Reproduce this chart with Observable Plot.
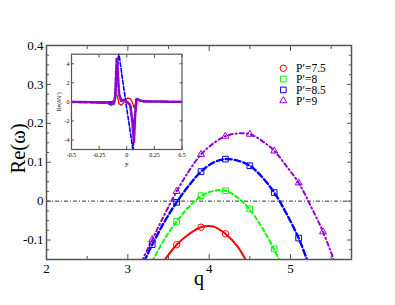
<!DOCTYPE html>
<html><head><meta charset="utf-8">
<script src="https://cdn.jsdelivr.net/npm/d3@7"></script>
<script src="https://cdn.jsdelivr.net/npm/@observablehq/plot@0.6"></script>
<style>
body{margin:0;background:#fff;}
#wrap{position:relative;width:395px;height:305px;font-family:"Liberation Serif","Times New Roman",serif;}
#wrap svg{position:absolute;font-family:"Liberation Serif","Times New Roman",serif !important;}
#wrap svg text{font-family:"Liberation Serif","Times New Roman",serif !important;}
</style>
</head><body><div id="wrap"></div>
<script>
// ---- main chart data ----
const seriesNames = ["P′=7.5", "P′=8", "P′=8.5", "P′=9"];
const seriesColors = ["#ff0000", "#00ff00", "#0000ff", "#9400d3"];
const seriesSymbols = ["circle", "square", "square", "triangle"];

const redQ = [3.6, 3.9, 4.2];
const redRe = [-0.112, -0.067, -0.084];
const greenQ = [3.6, 3.9, 4.2, 4.5, 4.8];
const greenRe = [-0.052, 0.014, 0.027, -0.020, -0.123];
const blueQ = [3.3, 3.6, 3.9, 4.2, 4.5, 4.8, 5.1];
const blueRe = [-0.112, -0.003, 0.076, 0.108, 0.091, 0.022, -0.095];
const violetQ = [3.3, 3.6, 3.9, 4.2, 4.5, 4.8, 5.1, 5.4];
const violetRe = [-0.099, 0.025, 0.120, 0.167, 0.172, 0.129, 0.047, -0.079];

const redLineQ = [3.44, 3.6, 3.75, 3.9, 4.05, 4.2, 4.35, 4.46];
const redLineRe = [-0.155, -0.112, -0.085, -0.067, -0.065, -0.084, -0.117, -0.155];
const greenLineQ = [3.30, 3.45, 3.6, 3.75, 3.9, 4.05, 4.2, 4.35, 4.5, 4.65, 4.8, 4.87];
const greenLineRe = [-0.155, -0.098, -0.052, -0.015, 0.013, 0.026, 0.027, 0.009, -0.022, -0.068, -0.125, -0.155];
const blueLineQ = [3.2, 3.3, 3.45, 3.6, 3.75, 3.9, 4.05, 4.2, 4.35, 4.5, 4.65, 4.8, 4.95, 5.1, 5.21];
const blueLineRe = [-0.155, -0.112, -0.053, -0.003, 0.040, 0.076, 0.099, 0.108, 0.104, 0.091, 0.062, 0.022, -0.032, -0.095, -0.155];
const violetLineQ = [3.17, 3.3, 3.45, 3.6, 3.75, 3.9, 4.05, 4.2, 4.35, 4.5, 4.65, 4.8, 4.95, 5.1, 5.25, 5.4, 5.54];
const violetLineRe = [-0.155, -0.099, -0.035, 0.025, 0.077, 0.120, 0.148, 0.167, 0.174, 0.172, 0.155, 0.129, 0.090, 0.047, -0.013, -0.079, -0.155];

const xMajor = [2, 3, 4, 5];
const xMinor = [2.5, 3.5, 4.5, 5.5];
const yMajor = [-0.1, 0, 0.1, 0.2, 0.3, 0.4];
const yMinor = [-0.125, -0.075, -0.05, -0.025, 0.025, 0.05, 0.075, 0.125, 0.15, 0.175, 0.225, 0.25, 0.275, 0.325, 0.35, 0.375];

// ---- inset data ----
const insetXTicks = [-0.5, -0.25, 0, 0.25, 0.5];
const insetYTicks = [-4, -2, 0, 2, 4];
const insRedY = [-0.5, -0.13, -0.11, -0.095, -0.085, -0.07, -0.05, -0.03, -0.01, 0.01, 0.03, 0.05, 0.065, 0.075, 0.09, 0.11, 0.15, 0.5];
const insRedV = [0, 0, 0.1, 0.9, 0.6, -0.2, -0.35, -0.1, 0.2, 0.4, 0.35, 0.0, -0.6, -0.3, 0.25, 0.2, 0.05, 0];
const insGreenY = [-0.5, -0.15, -0.11, -0.1, -0.085, -0.07, -0.05, -0.02, 0.01, 0.04, 0.055, 0.065, 0.075, 0.09, 0.11, 0.15, 0.5];
const insGreenV = [0, -0.1, -0.2, 0.5, 3.5, 1.0, 0.3, 0.1, 0, -0.5, -2.5, -3.8, -1.5, 0.3, 0.2, 0.05, 0];
const insBlueY = [-0.5, -0.14, -0.11, -0.09, -0.072, -0.04, 0, 0.03, 0.058, 0.07, 0.085, 0.1, 0.15, 0.5];
const insBlueV = [0, -0.05, 0.2, 2.5, 5.2, 2.5, -0.7, -3.0, -5.2, -2, 0.3, 0.2, 0.05, 0];
const insVioletY = [-0.5, -0.17, -0.14, -0.12, -0.105, -0.09, -0.08, -0.07, -0.05, -0.03, 0, 0.03, 0.05, 0.065, 0.075, 0.09, 0.11, 0.15, 0.5];
const insVioletV = [0, -0.1, -0.3, -0.2, 0.5, 4.6, 3.0, 0.8, 0.1, 0.2, 0, -0.3, -2, -4.2, -1.5, 0.3, 0.2, 0.05, 0];

const zip = (a, b) => a.map((v, i) => ({x: v, y: b[i]}));
const mainLines = [zip(redLineQ, redLineRe), zip(greenLineQ, greenLineRe), zip(blueLineQ, blueLineRe), zip(violetLineQ, violetLineRe)];
const mainPts = [zip(redQ, redRe), zip(greenQ, greenRe), zip(blueQ, blueRe), zip(violetQ, violetRe)];
const insetLines = [zip(insRedY, insRedV), zip(insGreenY, insGreenV), zip(insBlueY, insBlueV), zip(insVioletY, insVioletV)];
const dashes = [null, "4,3", "6,3", "4,3,1.2,3"];
const widths = [2, 2, 2.4, 2];
const insDashes = [null, "4,2", "4,2", "4,2"];
const insWidths = [1.3, 1.5, 1.6, 2.6];
const symR = s => s === "triangle" ? 2.6 : 3.2;

const font = "Liberation Serif, Times New Roman, serif";
const axisColor = "#555";
const fmt = d => String(d);

const lineMarks = mainLines.map((d, i) => Plot.line(d, {x: "x", y: "y", stroke: seriesColors[i], strokeWidth: widths[i], strokeDasharray: dashes[i], curve: "catmull-rom", clip: true}));
const dotMarks = mainPts.map((d, i) => Plot.dot(d, {x: "x", y: "y", stroke: seriesColors[i], fill: "none", symbol: seriesSymbols[i], r: symR(seriesSymbols[i]), strokeWidth: 1}));

const main = Plot.plot({
  width: 395, height: 305,
  marginLeft: 46, marginRight: 44, marginTop: 45, marginBottom: 46,
  style: {fontFamily: font, background: "white", color: "black"},
  x: {domain: [2, 5.75]},
  y: {domain: [-0.15, 0.4]},
  marks: [
    Plot.ruleY([0], {stroke: "black", strokeWidth: 0.8, strokeDasharray: "4,2,1,2"}),
    ...lineMarks,
    ...dotMarks,
    Plot.axisX(xMajor, {anchor: "bottom", tickSize: -5, tickPadding: 9, fontSize: 13, fontFamily: font, stroke: axisColor, tickFormat: fmt, label: null}),
    Plot.axisX(xMinor, {anchor: "bottom", tickSize: -3, text: null, stroke: axisColor, label: null}),
    Plot.axisX(xMajor, {anchor: "top", tickSize: -5, text: null, stroke: axisColor, label: null}),
    Plot.axisX(xMinor, {anchor: "top", tickSize: -3, text: null, stroke: axisColor, label: null}),
    Plot.axisY(yMajor, {anchor: "left", tickSize: -5, tickPadding: 8, fontSize: 13, fontFamily: font, stroke: axisColor, tickFormat: fmt, label: null}),
    Plot.axisY(yMinor, {anchor: "left", tickSize: -3, text: null, stroke: axisColor, label: null}),
    Plot.axisY(yMajor, {anchor: "right", tickSize: -5, text: null, stroke: axisColor, label: null}),
    Plot.axisY(yMinor, {anchor: "right", tickSize: -3, text: null, stroke: axisColor, label: null}),
    Plot.frame({stroke: axisColor, strokeWidth: 1.5}),
    Plot.text(["Re(ω)"], {frameAnchor: "left", dx: -28, dy: -4, rotate: -90, textAnchor: "middle", lineAnchor: "middle", fontSize: 20.5, fontFamily: font, fill: "black"}),
    Plot.text(["q"], {frameAnchor: "bottom", dy: 19, textAnchor: "middle", lineAnchor: "middle", fontSize: 20, fontFamily: font, fill: "black"})
  ]
});
main.style.left = "0px"; main.style.top = "0px";
document.getElementById("wrap").appendChild(main);

const inset = Plot.plot({
  width: 135, height: 119,
  marginLeft: 16, marginRight: 8.5, marginTop: 2.7, marginBottom: 21,
  style: {fontFamily: font, background: "none", color: "black", overflow: "visible"},
  x: {domain: [-0.5, 0.5]},
  y: {domain: [-5, 5]},
  marks: [
    Plot.frame({fill: "white"}),
    ...insetLines.map((d, i) => Plot.line(d, {x: "x", y: "y", stroke: seriesColors[i], strokeWidth: insWidths[i], strokeDasharray: insDashes[i], clip: true})),
    Plot.axisX(insetXTicks, {anchor: "bottom", tickSize: -3, tickPadding: 6, fontSize: 6, fontFamily: font, stroke: axisColor, tickFormat: fmt, label: null}),
    Plot.axisX(insetXTicks, {anchor: "top", tickSize: -3, text: null, stroke: axisColor, label: null}),
    Plot.axisY(insetYTicks, {anchor: "left", tickSize: -3, tickPadding: 5, fontSize: 6, fontFamily: font, stroke: axisColor, tickFormat: fmt, label: null}),
    Plot.axisY(insetYTicks, {anchor: "right", tickSize: -3, text: null, stroke: axisColor, label: null}),
    Plot.frame({stroke: axisColor, strokeWidth: 1.2}),
    Plot.text(["y"], {frameAnchor: "bottom", dy: 14, textAnchor: "middle", lineAnchor: "middle", fontSize: 7, fontFamily: font, fill: "black"}),
    Plot.text(["Re(δN′)"], {frameAnchor: "left", dx: -12, rotate: -90, textAnchor: "middle", lineAnchor: "middle", fontSize: 6, fontFamily: font, fill: "black"})
  ]
});
inset.style.left = "55px"; inset.style.top = "51px";
document.getElementById("wrap").appendChild(inset);

// ---- legend ----
const leg = d3.create("svg").attr("width", 90).attr("height", 50).style("left", "276px").style("top", "61px");
const symMap = {circle: d3.symbolCircle, square: d3.symbolSquare, triangle: d3.symbolTriangle};
seriesNames.forEach((name, i) => {
  const cy = 7.3 + i * 10.8;
  const r = symR(seriesSymbols[i]);
  leg.append("path").attr("transform", `translate(7.3,${cy})`)
    .attr("d", d3.symbol(symMap[seriesSymbols[i]], Math.PI * r * r)())
    .attr("fill", "none").attr("stroke", seriesColors[i]).attr("stroke-width", 1);
  leg.append("text").attr("x", 20).attr("y", cy).attr("dy", "0.35em")
    .attr("font-family", font).attr("font-size", 11.5).text(name);
});
document.getElementById("wrap").appendChild(leg.node());
</script></body></html>
